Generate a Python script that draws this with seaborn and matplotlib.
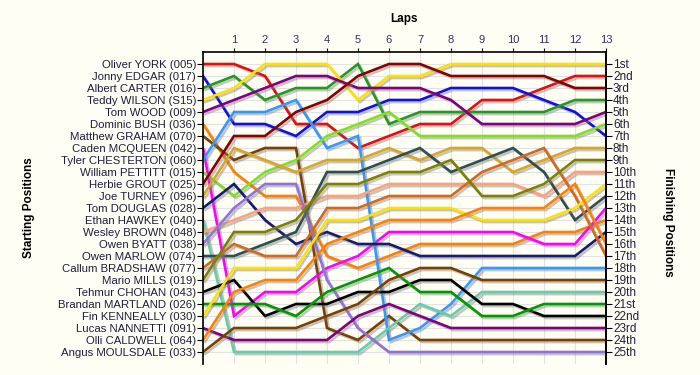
import matplotlib
matplotlib.use('Agg')
import matplotlib.pyplot as plt
import matplotlib.patheffects as pe
import seaborn as sns
import pandas as pd

# ---- data ----
laps = list(range(14))
drivers = [
    "Oliver YORK (005)", "Jonny EDGAR (017)", "Albert CARTER (016)", "Teddy WILSON (S15)",
    "Tom WOOD (009)", "Dominic BUSH (036)", "Matthew GRAHAM (070)", "Caden MCQUEEN (042)",
    "Tyler CHESTERTON (060)", "William PETTITT (015)", "Herbie GROUT (025)", "Joe TURNEY (096)",
    "Tom DOUGLAS (028)", "Ethan HAWKEY (040)", "Wesley BROWN (048)", "Owen BYATT (038)",
    "Owen MARLOW (074)", "Callum BRADSHAW (077)", "Mario MILLS (019)", "Tehmur CHOHAN (043)",
    "Brandan MARTLAND (026)", "Fin KENNEALLY (030)", "Lucas NANNETTI (091)", "Olli CALDWELL (064)",
    "Angus MOULSDALE (033)",
]
york       = [1, 1, 2, 6, 6, 8, 7, 6, 6, 4, 4, 3, 2, 2]
edgar      = [2, 6, 6, 7, 5, 5, 4, 4, 3, 3, 3, 4, 5, 7]
carter     = [3, 2, 4, 3, 3, 1, 6, 5, 5, 5, 5, 5, 4, 4]
wilson     = [4, 3, 1, 1, 1, 4, 2, 2, 1, 1, 1, 1, 1, 1]
wood       = [5, 4, 3, 2, 2, 3, 3, 3, 4, 6, 6, 6, 6, 5]
bush       = [6, 10, 12, 12, 17, 18, 17, 16, 16, 16, 16, 15, 15, 14]
graham     = [7, 9, 8, 8, 23, 24, 22, 24, 24, 24, 24, 24, 24, 24]
mcqueen    = [8, 22, 20, 20, 18, 17, 15, 15, 15, 15, 15, 16, 16, 13]
chesterton = [9, 5, 5, 4, 8, 7, 24, 23, 21, 18, 18, 18, 18, 18]
pettitt    = [10, 12, 10, 9, 7, 6, 5, 7, 7, 7, 7, 7, 7, 6]
grout      = [11, 7, 7, 5, 4, 2, 1, 1, 2, 2, 2, 2, 3, 3]
turney     = [12, 8, 9, 10, 9, 9, 8, 9, 8, 8, 10, 9, 8, 8]
douglas    = [13, 11, 14, 16, 15, 16, 16, 17, 17, 17, 17, 17, 17, 15]
hawkey     = [14, 25, 25, 25, 25, 25, 23, 21, 22, 20, 20, 20, 20, 20]
brown      = [15, 14, 13, 13, 12, 12, 11, 11, 11, 11, 11, 12, 10, 10]
byatt      = [16, 13, 11, 11, 19, 23, 25, 25, 25, 25, 25, 25, 25, 25]
marlow     = [17, 17, 16, 15, 10, 10, 9, 8, 10, 9, 8, 10, 14, 12]
bradshaw   = [18, 16, 17, 17, 13, 13, 12, 12, 12, 10, 9, 8, 12, 17]
mills      = [19, 15, 15, 14, 11, 11, 10, 10, 9, 12, 12, 11, 9, 9]
chohan     = [20, 19, 22, 21, 21, 20, 20, 19, 19, 21, 21, 22, 22, 22]
martland   = [21, 21, 21, 22, 20, 19, 18, 20, 20, 22, 22, 21, 21, 21]
kenneally  = [22, 18, 18, 18, 14, 14, 13, 13, 13, 14, 14, 14, 13, 11]
nannetti   = [23, 24, 24, 24, 24, 22, 21, 22, 23, 23, 23, 23, 23, 23]
caldwell   = [24, 20, 19, 19, 16, 15, 14, 14, 14, 13, 13, 13, 11, 16]
moulsdale  = [25, 23, 23, 23, 22, 21, 19, 18, 18, 19, 19, 19, 19, 19]
finish_labels = ["1st", "2nd", "3rd", "4th", "5th", "6th", "7th", "8th", "9th", "10th",
                 "11th", "12th", "13th", "14th", "15th", "16th", "17th", "18th", "19th",
                 "20th", "21st", "22nd", "23rd", "24th", "25th"]
colors = ["#E01010", "#1010E0", "#229922", "#FFE000", "#800080", "#FF8000", "#7B3F00",
          "#FF00FF", "#3399FF", "#80E020", "#880000", "#DAA520", "#1A1A6E", "#66CDAA",
          "#FFA07A", "#9370DB", "#2F4F4F", "#D2691E", "#808000", "#000000", "#009900",
          "#FFE000", "#800080", "#FF8000", "#7B3F00"]

series = [york, edgar, carter, wilson, wood, bush, graham, mcqueen, chesterton, pettitt,
          grout, turney, douglas, hawkey, brown, byatt, marlow, bradshaw, mills, chohan,
          martland, kenneally, nannetti, caldwell, moulsdale]

rows = []
for d, s in zip(drivers, series):
    for lap, p in zip(laps, s):
        rows.append({"driver": d, "lap": lap, "pos": p})
df = pd.DataFrame(rows)

# ---- style ----
sns.set_style("white")
plt.rcParams['font.family'] = ['Liberation Sans', 'DejaVu Sans']
bg = "#FEFEF4"
text_col = "#1E1E3C"

fig = plt.figure(figsize=(7, 3.75), dpi=100, facecolor=bg)
ax = fig.add_axes([203 / 700, 1 - 364 / 375, (606 - 203) / 700, (364 - 52) / 375])
ax.set_facecolor(bg)

sns.lineplot(data=df, x="lap", y="pos", hue="driver", hue_order=drivers,
             palette=colors, legend=False, linewidth=1.9, ax=ax, estimator=None,
             sort=False)
for line in ax.get_lines():
    line.set_path_effects([pe.SimpleLineShadow(offset=(1.5, -1.5), shadow_color="#808080", alpha=0.45),
                           pe.Normal()])
    line.set_solid_joinstyle("miter")

ax.set_xlim(0, 13)
ax.set_ylim(26, 0)

# grid
for lap in laps:
    ax.axvline(lap, color="#E2E2E2", lw=0.8, zorder=0)
for p in range(1, 26):
    ax.axhline(p, color="#E2E2E2", lw=0.8, zorder=0)

ax.xaxis.tick_top()
ax.set_xticks(laps[1:])
ax.set_xticklabels([str(l) for l in laps[1:]], fontsize=8, color="#303060")
ax.set_yticks(range(1, 26))
ax.set_yticklabels(drivers, fontsize=8.2, color=text_col)
ax.tick_params(axis="x", direction="out", length=3, pad=2, colors="black", labelcolor="#303060")
ax.tick_params(axis="y", direction="out", length=4, pad=1, colors="black", labelcolor=text_col)
ax.set_xlabel("")
ax.set_ylabel("")

for sp in ["left", "top", "right"]:
    ax.spines[sp].set_visible(True)
    ax.spines[sp].set_color("black")
    ax.spines[sp].set_linewidth(1.2)
ax.spines["bottom"].set_visible(False)

ax2 = ax.twinx()
ax2.set_ylim(26, 0)
ax2.set_yticks(range(1, 26))
ax2.set_yticklabels(finish_labels, fontsize=8.5, color=text_col)
ax2.tick_params(axis="y", direction="out", length=4, pad=1, colors="black", labelcolor=text_col)
for sp in ["left", "top", "bottom"]:
    ax2.spines[sp].set_visible(False)
ax2.spines["right"].set_color("black")
ax2.spines["right"].set_linewidth(1.2)

fig.text(404 / 700, 1 - 19 / 375, "Laps", ha="center", va="center", fontsize=8.5,
         weight="bold", color="black")
fig.text(29 / 700, 1 - 208 / 375, "Starting Positions", ha="center", va="center",
         rotation=90, fontsize=8.5, weight="bold", color="black")
fig.text(668 / 700, 1 - 222 / 375, "Finishing Positions", ha="center", va="center",
         rotation=270, fontsize=8.5, weight="bold", color="black")

fig.savefig("out.png", dpi=100, facecolor=bg)
